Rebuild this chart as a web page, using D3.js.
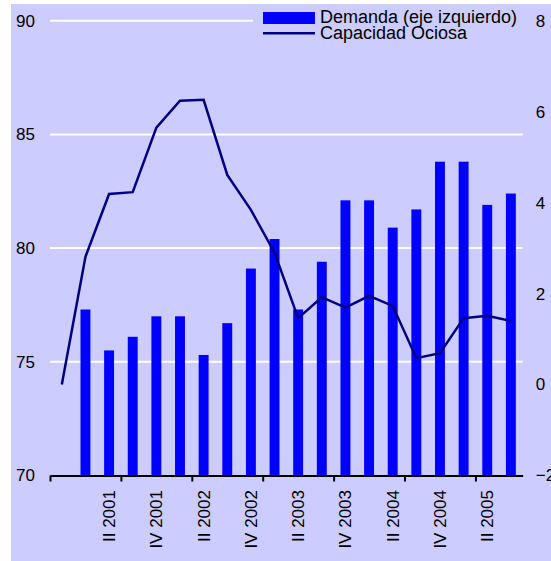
<!DOCTYPE html>
<html>
<head>
<meta charset="utf-8">
<script src="https://cdn.jsdelivr.net/npm/d3@7"></script>
<style>
  body { margin: 0; background: #fff; }
  text { font-family: "Liberation Sans", Arial, sans-serif; fill: #000; }
</style>
</head>
<body>
<div id="chart"></div>
<script>
(function() {
  var width = 551, height = 561;
  var margin = { top: 20.7, left: 50, right: 28.3, bottom: 85.5 },
      plotW = width - margin.left - margin.right,
      plotH = height - margin.top - margin.bottom;

  // quarters, IV 2000 .. III 2005
  var quarters = ["IV 2000","I 2001","II 2001","III 2001","IV 2001","I 2002","II 2002","III 2002","IV 2002",
    "I 2003","II 2003","III 2003","IV 2003","I 2004","II 2004","III 2004","IV 2004","I 2005","II 2005","III 2005"];
  var tickLabels = ["II 2001","IV 2001","II 2002","IV 2002","II 2003","IV 2003","II 2004","IV 2004","II 2005"];
  // demand (left axis)
  var demanda = [null, 77.3, 75.5, 76.1, 77.0, 77.0, 75.3, 76.7, 79.1, 80.4,
    77.3, 79.4, 82.1, 82.1, 80.9, 81.7, 83.8, 83.8, 81.9, 82.4];
  // idle capacity (right axis)
  var capacidad = [0.0, 2.81, 4.19, 4.23, 5.65, 6.24, 6.26, 4.61, 3.84, 2.9,
    1.46, 1.92, 1.69, 1.95, 1.73, 0.58, 0.69, 1.46, 1.51, 1.40];
  var leftTicks = [70, 75, 80, 85, 90];
  var rightTicks = [-2, 0, 2, 4, 6, 8];

  var svg = d3.select("#chart").append("svg")
    .attr("width", width)
    .attr("height", height);

  svg.append("rect")
    .attr("x", 11).attr("y", 4)
    .attr("width", width - 11).attr("height", height - 4)
    .attr("fill", "#CCCCFF");

  var g = svg.append("g")
    .attr("transform", "translate(" + margin.left + "," + margin.top + ")");

  var xBand = d3.scaleBand().domain(quarters).range([0, plotW])
    .paddingInner(0.58).paddingOuter(0.29);
  var xIdx = d3.scaleLinear().domain([0, quarters.length]).range([0, plotW]);
  var yLeft = d3.scaleLinear().domain([70, 90]).range([plotH, 0]);
  var yRight = d3.scaleLinear().domain([-2, 8]).range([plotH, 0]);

  // white gridlines
  g.selectAll(".grid")
    .data(leftTicks.filter(function(d) { return d > 70; }))
    .enter().append("line")
    .attr("class", "grid")
    .attr("x1", 0).attr("x2", plotW)
    .attr("y1", function(d) { return yLeft(d); })
    .attr("y2", function(d) { return yLeft(d); })
    .attr("stroke", "#fff")
    .attr("stroke-width", 2);

  // bars
  g.selectAll(".bar")
    .data(quarters.map(function(q, i) { return { q: q, v: demanda[i] }; })
      .filter(function(d) { return d.v != null; }))
    .enter().append("rect")
    .attr("class", "bar")
    .attr("x", function(d) { return xBand(d.q); })
    .attr("width", xBand.bandwidth())
    .attr("y", function(d) { return yLeft(d.v); })
    .attr("height", function(d) { return plotH - yLeft(d.v); })
    .attr("fill", "#0000FF");

  // line
  var line = d3.line()
    .x(function(d, i) { return xBand(quarters[i]) + xBand.bandwidth() / 2; })
    .y(function(d) { return yRight(d); });

  g.append("path")
    .datum(capacidad)
    .attr("d", line)
    .attr("fill", "none")
    .attr("stroke", "#000080")
    .attr("stroke-width", 2.5);

  // x axis: ticks every 3 quarters
  var xAxis = d3.axisBottom(xIdx)
    .tickValues([0, 3, 6, 9, 12, 15, 18])
    .tickFormat("")
    .tickSizeInner(6)
    .tickSizeOuter(0);
  var xg = g.append("g")
    .attr("transform", "translate(0," + plotH + ")")
    .call(xAxis);
  xg.select(".domain").attr("stroke", "#000").attr("stroke-width", 2);
  xg.selectAll(".tick line").attr("stroke", "#000").attr("stroke-width", 2);

  // x labels every 2 quarters
  g.selectAll(".xlabel")
    .data(tickLabels)
    .enter().append("text")
    .attr("class", "xlabel")
    .attr("transform", function(d) {
      var cx = xBand(d) + xBand.bandwidth() / 2;
      return "translate(" + cx + "," + (plotH + 14.5) + ") rotate(-90)";
    })
    .attr("text-anchor", "end")
    .attr("dy", "0.35em")
    .style("font-size", "17px")
    .text(function(d) { return d; });

  // left axis
  var yAxisL = d3.axisLeft(yLeft).tickValues(leftTicks).tickSize(0).tickPadding(15);
  var yl = g.append("g").call(yAxisL);
  yl.select(".domain").remove();
  yl.selectAll("text").style("font-size", "17px").attr("font-family", null);

  // right axis
  var yAxisR = d3.axisRight(yRight).tickValues(rightTicks).tickSize(0).tickPadding(13);
  var yr = g.append("g").attr("transform", "translate(" + plotW + ",0)").call(yAxisR);
  yr.select(".domain").remove();
  yr.selectAll("text").style("font-size", "17px").attr("font-family", null);

  // legend
  var legend = svg.append("g");
  legend.append("rect")
    .attr("x", 253).attr("y", 6)
    .attr("width", 272).attr("height", 38)
    .attr("fill", "#CCCCFF");
  legend.append("rect")
    .attr("x", 263).attr("y", 12)
    .attr("width", 52).attr("height", 12)
    .attr("fill", "#0000FF");
  legend.append("line")
    .attr("x1", 263).attr("x2", 315)
    .attr("y1", 33.3).attr("y2", 33.3)
    .attr("stroke", "#000080")
    .attr("stroke-width", 2.5);
  legend.append("text")
    .attr("x", 320).attr("y", 23)
    .style("font-size", "18px")
    .text("Demanda (eje izquierdo)");
  legend.append("text")
    .attr("x", 320).attr("y", 39)
    .style("font-size", "18px")
    .text("Capacidad Ociosa");
})();
</script>
</body>
</html>
